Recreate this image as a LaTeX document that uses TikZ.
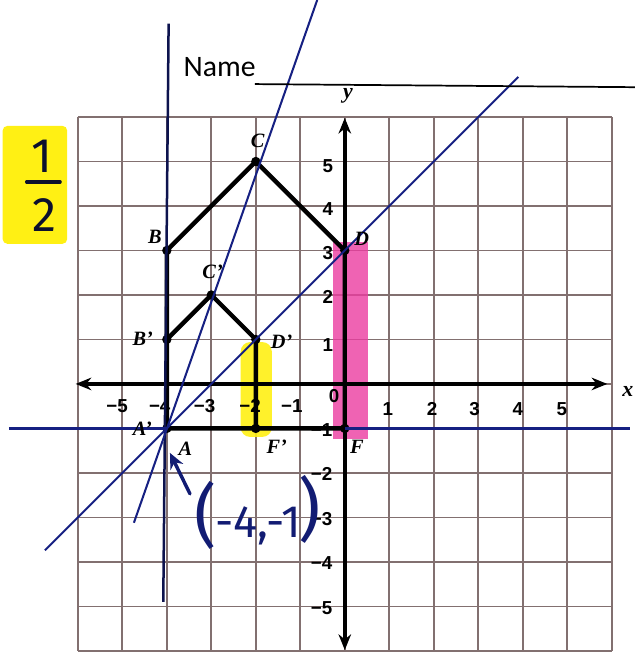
\documentclass[tikz,border=0pt]{standalone}
\usepackage{fontspec}
\setmainfont{Liberation Serif}
\newfontfamily\namefont{Carlito}
\newfontfamily\tickfont{Liberation Sans}
\newfontfamily\handfont{Fira Sans}
\usetikzlibrary{arrows.meta}
\definecolor{gridc}{RGB}{130,112,112}
\definecolor{navy}{RGB}{22,32,130}
\definecolor{ink}{RGB}{18,28,115}
\definecolor{darkink}{RGB}{12,16,45}
\definecolor{hlyellow}{RGB}{255,240,20}
\definecolor{hlpink}{RGB}{235,60,160}
\tikzset{
  gridline/.style={gridc, line width=1.1pt},
  axisline/.style={black, line width=2.2pt, {Stealth[length=10pt,width=8pt]}-{Stealth[length=10pt,width=8pt]}},
  shapeline/.style={black, line width=2.8pt, line join=round, line cap=round},
  rayline/.style={navy, line width=1.3pt},
  ptlabel/.style={font=\bfseries\itshape\fontsize{13}{13}\selectfont, inner sep=0pt},
  ticklabel/.style={font=\tickfont\bfseries\fontsize{12}{12}\selectfont, inner sep=0pt},
  vertexdot/.style={circle, fill=black, inner sep=0pt, minimum size=6pt},
  hand/.style={font=\handfont, text=ink, inner sep=0pt},
}
\begin{document}
\begin{tikzpicture}
\useasboundingbox (-7.75,-6.16) rectangle (6.52,8.63);
% grid
\foreach \k in {-6,...,6} {
  \draw[gridline] (\k,-6) -- (\k,6);
  \draw[gridline] (-6,\k) -- (6,\k);
}
% highlights
\fill[hlyellow, rounded corners=3pt] (-7.69,3.15) rectangle (-6.24,5.8);
\fill[hlpink, opacity=0.8] (-0.27,-1.24) rectangle (0.52,3.2);
\fill[hlyellow, opacity=0.9, rounded corners=6pt] (-2.34,-1.19) rectangle (-1.64,0.94);
% axes
\coordinate (xl) at (-6.05,0);
\coordinate (xr) at (5.9,0);
\coordinate (yb) at (0,-5.98);
\coordinate (yt) at (0,5.98);
\draw[axisline] (xl) -- (xr);
\draw[axisline] (yb) -- (yt);
\node[ptlabel, font=\bfseries\itshape\fontsize{14}{14}\selectfont] (xlab) at (6.36,-0.18) {x};
\node[ptlabel, font=\bfseries\itshape\fontsize{14}{14}\selectfont] (ylab) at (0.07,6.47) {y};
% tick labels
\foreach \v/\p in {5/-5.12,4/-4.16,3/-3.15,2/-2.13,1/-1.19} {
  \node[ticklabel] (txn\v) at (\p,-0.5) {−\v};
}
\node[ticklabel] (tx0) at (-0.24,-0.27) {0};
\foreach \v/\p in {1/0.97,2/1.96,3/2.92,4/3.89,5/4.88} {
  \node[ticklabel] (tx\v) at (\p,-0.56) {\v};
}
\foreach \v/\p in {5/4.9,4/3.93,3/2.94,2/1.96,1/0.88} {
  \node[ticklabel] (ty\v) at (-0.38,\p) {\v};
}
\foreach \v in {1,2,3,4,5} {
  \node[ticklabel] (tyn\v) at (-0.52,-\v-0.03) {−\v};
}
% points
\coordinate (A) at (-4,-1);
\coordinate (B) at (-4,3);
\coordinate (C) at (-2,5);
\coordinate (D) at (0,3);
\coordinate (F) at (0,-1);
\coordinate (Bp) at (-4,1);
\coordinate (Cp) at (-3,2);
\coordinate (Dp) at (-2,1);
\coordinate (Fp) at (-2,-1);
% shapes
\draw[shapeline] (A) -- (B) -- (C) -- (D) -- (F) -- cycle;
\draw[shapeline] (Bp) -- (Cp) -- (Dp) -- (Fp);
\foreach \p in {A,B,C,D,F,Bp,Cp,Dp,Fp} {
  \node[vertexdot] (dot\p) at (\p) {};
}
% rays
\coordinate (vt) at (-3.96,8.1);
\coordinate (vb) at (-4.08,-4.9);
\coordinate (st) at (-0.62,8.63);
\coordinate (sb) at (-4.74,-3.12);
\coordinate (dt) at (3.9,6.9);
\coordinate (db) at (-6.74,-3.74);
\coordinate (hl) at (-7.55,-1);
\coordinate (hr) at (6.4,-1);
\draw[rayline, line width=1.6pt, black!40!navy] (vt) -- (vb);
\draw[rayline] (st) -- (sb);
\draw[rayline] (dt) -- (db);
\draw[rayline, line width=1.8pt] (hl) -- (A);
\draw[rayline, line width=1.8pt] (F) -- (hr);
% point labels
\node[ptlabel] (lA) at (-3.58,-1.46) {A};
\node[ptlabel] (lAp) at (-4.55,-1.0) {A'};
\node[ptlabel] (lB) at (-4.27,3.3) {B};
\node[ptlabel] (lC) at (-1.96,5.46) {C};
\node[ptlabel] (lD) at (0.38,3.26) {D};
\node[ptlabel] (lF) at (0.27,-1.42) {F};
\node[ptlabel] (lBp) at (-4.54,1.01) {B'};
\node[ptlabel] (lCp) at (-2.97,2.52) {C'};
\node[ptlabel] (lDp) at (-1.42,0.94) {D'};
\node[ptlabel] (lFp) at (-1.53,-1.42) {F'};
% name
\node[font=\namefont\fontsize{19}{19}\selectfont, anchor=base west, inner sep=0pt] (name) at (-3.63,6.9) {Name};
\coordinate (nl) at (-2.02,6.74);
\coordinate (nr) at (6.52,6.67);
\draw[black, line width=1.1pt] (nl) -- (nr);
% handwritten 1/2
\node[hand, text=darkink, font=\handfont\fontsize{31}{31}\selectfont] (one) at (-6.81,5.12) {1};
\node[hand, text=darkink, font=\handfont\fontsize{31}{31}\selectfont] (two) at (-6.74,3.8) {2};
\coordinate (fbl) at (-7.15,4.54);
\coordinate (fbr) at (-6.40,4.54);
\draw[darkink, line width=2.2pt, line cap=round] (fbl) -- (fbr);
% handwritten arrow and point
\coordinate (at) at (-3.48,-2.47);
\coordinate (ah) at (-3.93,-1.55);
\draw[ink, line width=2.2pt, line cap=round, -{Stealth[length=10pt,width=9pt]}] (at) -- (ah);
\node[hand, font=\handfont\fontsize{44}{44}\selectfont] (lpar) at (-3.12,-2.95) {(};
\node[hand, font=\handfont\fontsize{29}{29}\selectfont] (coord) at (-1.94,-3.2) {-4,-1};
\node[hand, font=\handfont\fontsize{44}{44}\selectfont] (rpar) at (-0.8,-2.82) {)};
\end{tikzpicture}
\end{document}
